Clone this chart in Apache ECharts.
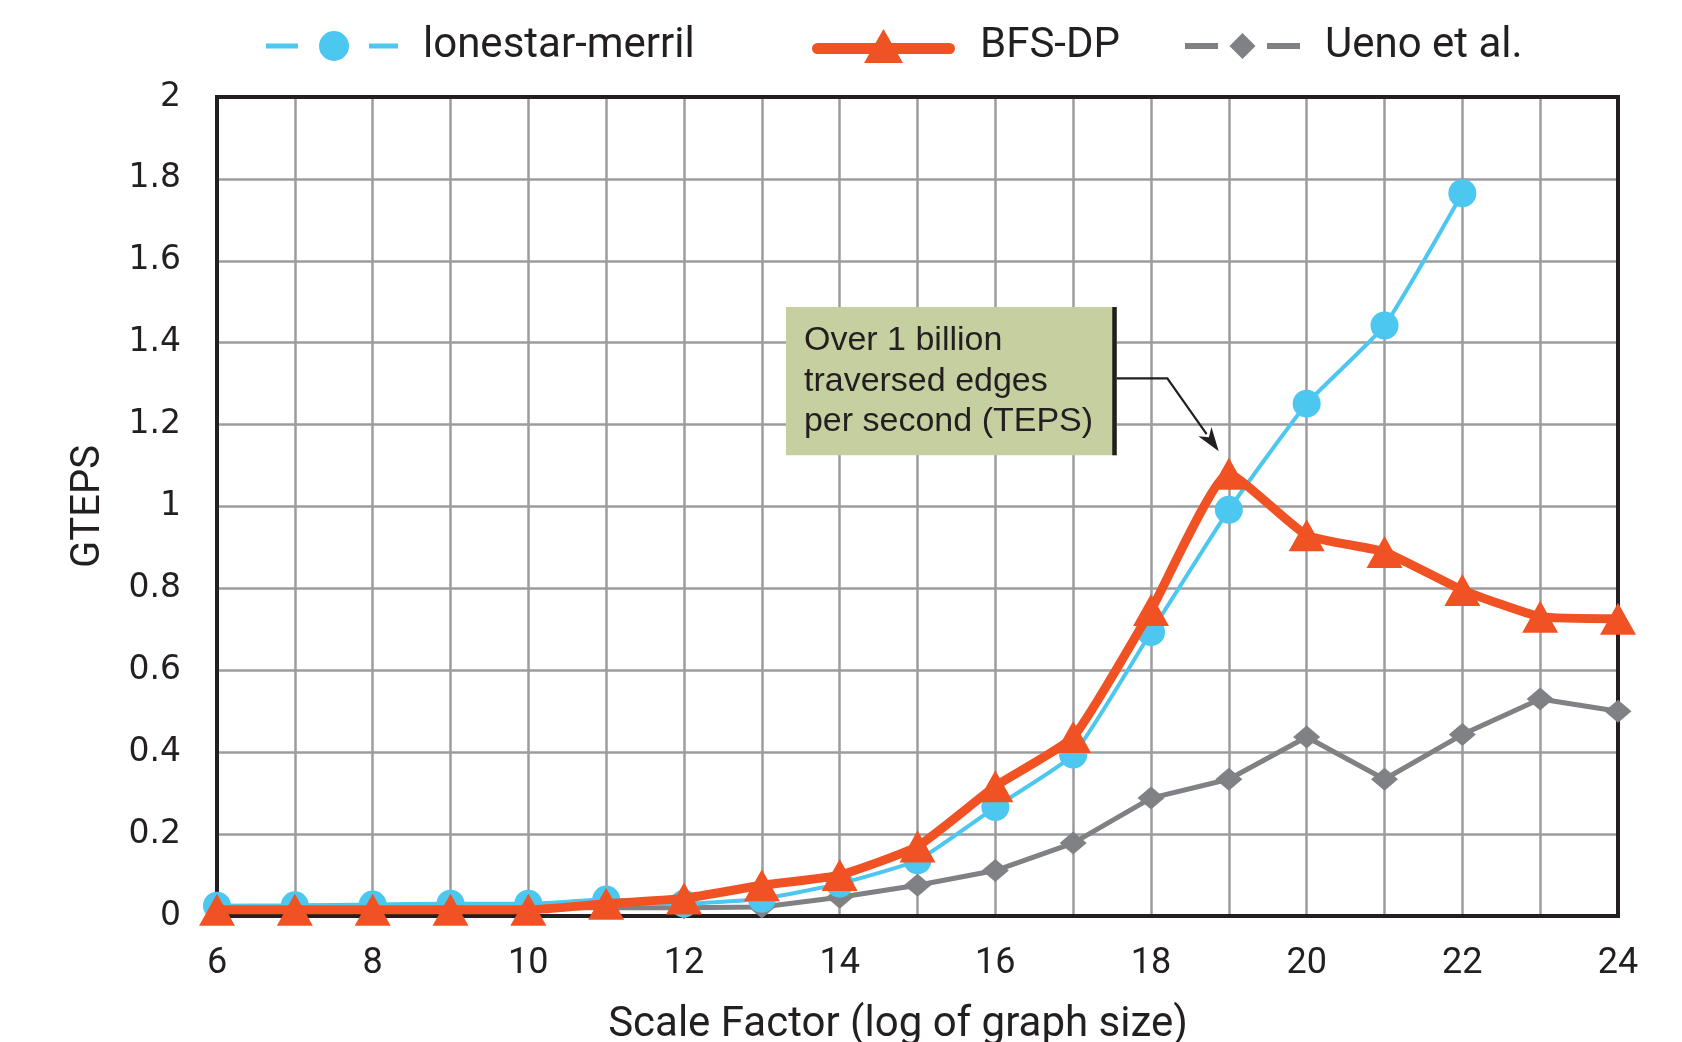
<!DOCTYPE html>
<html><head><meta charset="utf-8">
<script src="https://cdn.jsdelivr.net/npm/echarts@6/dist/echarts.min.js"></script>
<style>html,body{margin:0;padding:0;background:#fff}#c{width:1682px;height:1042px}</style>
</head><body><div id="c"></div>
<script>
// ---- data ----
const scaleFactors = [6,7,8,9,10,11,12,13,14,15,16,17,18,19,20,21,22,23,24];
const lonestarMerril = [0.025,0.026,0.028,0.03,0.03,0.04,0.03,0.042,0.079,0.136,0.266,0.394,0.693,0.992,1.251,1.442,1.765,null,null];
const bfsDP = [0.015,0.015,0.015,0.015,0.015,0.03,0.043,0.075,0.1,0.17,0.317,0.437,0.747,1.08,0.93,0.889,0.796,0.731,0.726];
const uenoEtAl = [0.02,0.02,0.02,0.02,0.02,0.02,0.02,0.022,0.046,0.075,0.111,0.178,0.288,0.334,0.437,0.334,0.443,0.53,0.5];
const seriesNames = ['lonestar-merril','BFS-DP','Ueno et al.'];
const yTicks = [0,0.2,0.4,0.6,0.8,1,1.2,1.4,1.6,1.8,2];
const xTickLabels = [6,8,10,12,14,16,18,20,22,24];
const annotationLines = ['Over 1 billion','traversed edges','per second (TEPS)'];
const xTitle = 'Scale Factor (log of graph size)';
const yTitle = 'GTEPS';

const BLUE = '#4cc7ef', RED = '#f05223', GRAY = '#808184', INK = '#231f20';
const pair = a => scaleFactors.map((x,i) => [x, a[i]]);

const chart = echarts.init(document.getElementById('c'), null, {renderer:'canvas'});
const legendText = {color: INK, fontSize: 42, fontFamily: 'Roboto', lineHeight: 44, padding: [0,0,0,20]};
const option = {
  animation: false,
  backgroundColor: '#fff',
  grid: {left: 217, right: 64, top: 97, bottom: 126, show: true, borderColor: INK, borderWidth: 4,
         backgroundColor: 'transparent', z: 3, containLabel: false, outerBoundsMode: 'none'},
  legend: [
    {data: [{name: seriesNames[0], icon: 'path://M0,12.5h32v5h-32z M103,12.5h29v5h-29z M53,15a15,15 0 1,0 30,0a15,15 0 1,0 -30,0z'}],
     left: 266, top: 24, padding: 0, itemWidth: 132, itemHeight: 30, textStyle: legendText, itemStyle: {borderWidth: 0}},
    {data: [{name: seriesNames[1], icon: 'path://M5.5,14h132a5.5,5.5 0 0,1 0,11h-132a5.5,5.5 0 0,1 0,-11z M52,34L71.5,0L91,34z'}],
     left: 812, top: 24, padding: 0, itemWidth: 143, itemHeight: 34, textStyle: legendText, itemStyle: {borderWidth: 0}},
    {data: [{name: seriesNames[2], icon: 'path://M0,10h33v6h-33z M82,10h33v6h-33z M44.5,13L57.5,0L70.5,13L57.5,26z'}],
     left: 1185, top: 24, padding: 0, itemWidth: 115, itemHeight: 26, textStyle: legendText, itemStyle: {borderWidth: 0}}
  ],
  xAxis: {
    type: 'value', min: 6, max: 24, interval: 1,
    name: xTitle, nameLocation: 'middle', nameGap: 88,
    nameTextStyle: {color: INK, fontSize: 42, fontFamily: 'Roboto', padding: [0, 39, 0, 0]},
    axisLine: {show: false}, axisTick: {show: false},
    axisLabel: {margin: 30, color: INK, fontSize: 36, fontFamily: 'Roboto',
      formatter: v => xTickLabels.includes(v) ? String(v) : ''},
    splitLine: {show: true, lineStyle: {color: '#9c9c9f', width: 2.5}}
  },
  yAxis: {
    type: 'value', min: 0, max: 2, interval: 0.2,
    name: yTitle, nameLocation: 'middle', nameGap: 108, nameRotate: 90,
    nameTextStyle: {color: INK, fontSize: 40, fontFamily: 'Roboto'},
    axisLine: {show: false}, axisTick: {show: false},
    axisLabel: {margin: 36, color: INK, fontSize: 33, fontFamily: 'DejaVu Sans',
      formatter: v => { const t = yTicks.find(k => Math.abs(k - v) < 1e-6); return t === undefined ? '' : String(t); }},
    splitLine: {show: true, lineStyle: {color: '#9c9c9f', width: 2.5}}
  },
  series: [
    {name: seriesNames[0], type: 'line', data: pair(lonestarMerril), z: 4, clip: false,
     smooth: 0.15, symbol: 'circle', symbolSize: 28, showSymbol: true,
     lineStyle: {color: BLUE, width: 4}, itemStyle: {color: BLUE, borderWidth: 0}},
    {name: seriesNames[1], type: 'line', data: pair(bfsDP), z: 5, clip: false,
     smooth: 0.15, symbol: 'triangle', symbolSize: [36, 32], showSymbol: true,
     lineStyle: {color: RED, width: 9}, itemStyle: {color: RED, borderWidth: 0}},
    {name: seriesNames[2], type: 'line', data: pair(uenoEtAl), z: 3, clip: false,
     symbol: 'diamond', symbolSize: [27, 23], showSymbol: true,
     lineStyle: {color: GRAY, width: 5}, itemStyle: {color: GRAY, borderWidth: 0}}
  ]
};
chart.setOption(option);

// ---- annotation anchored in data units ----
const boxTopLeft = [13.31, 1.487], boxBottomRight = [17.56, 1.125];
const elbow = [18.21, 1.313], arrowTip = [18.87, 1.135];
const P = p => chart.convertToPixel({gridIndex: 0}, p);
const a = P(boxTopLeft), b = P(boxBottomRight), e = P(elbow), t = P(arrowTip);
const midY = e[1];
const dx = t[0]-e[0], dy = t[1]-e[1], L = Math.hypot(dx, dy), ux = dx/L, uy = dy/L;
const hl = 21, hw = 8;
const bx = t[0]-ux*hl, by = t[1]-uy*hl;
const lineH = 40.5;
const graphics = [
  {type: 'rect', shape: {x: a[0], y: a[1], width: b[0]-a[0], height: b[1]-a[1]}, style: {fill: '#c6cf9f'}, z: 10},
  {type: 'rect', shape: {x: b[0]-4.5, y: a[1], width: 4.5, height: b[1]-a[1]}, style: {fill: INK}, z: 11},
  {type: 'polyline', shape: {points: [[b[0], midY], [e[0], e[1]], [bx, by]]}, style: {stroke: INK, lineWidth: 2.2, fill: null}, z: 11},
  {type: 'polygon', shape: {points: [[t[0], t[1]], [bx - uy*hw - ux*3, by + ux*hw - uy*3], [bx + ux*4, by + uy*4], [bx + uy*hw - ux*3, by - ux*hw - uy*3]]}, style: {fill: INK}, z: 11}
];
annotationLines.forEach((s, i) => graphics.push({
  type: 'text', x: a[0] + 18, y: a[1] + 34 + i*lineH, z: 12,
  style: {text: s, fill: INK, font: '34px "Liberation Sans"', verticalAlign: 'middle', align: 'left'}
}));
chart.setOption({graphic: graphics});
</script></body></html>
